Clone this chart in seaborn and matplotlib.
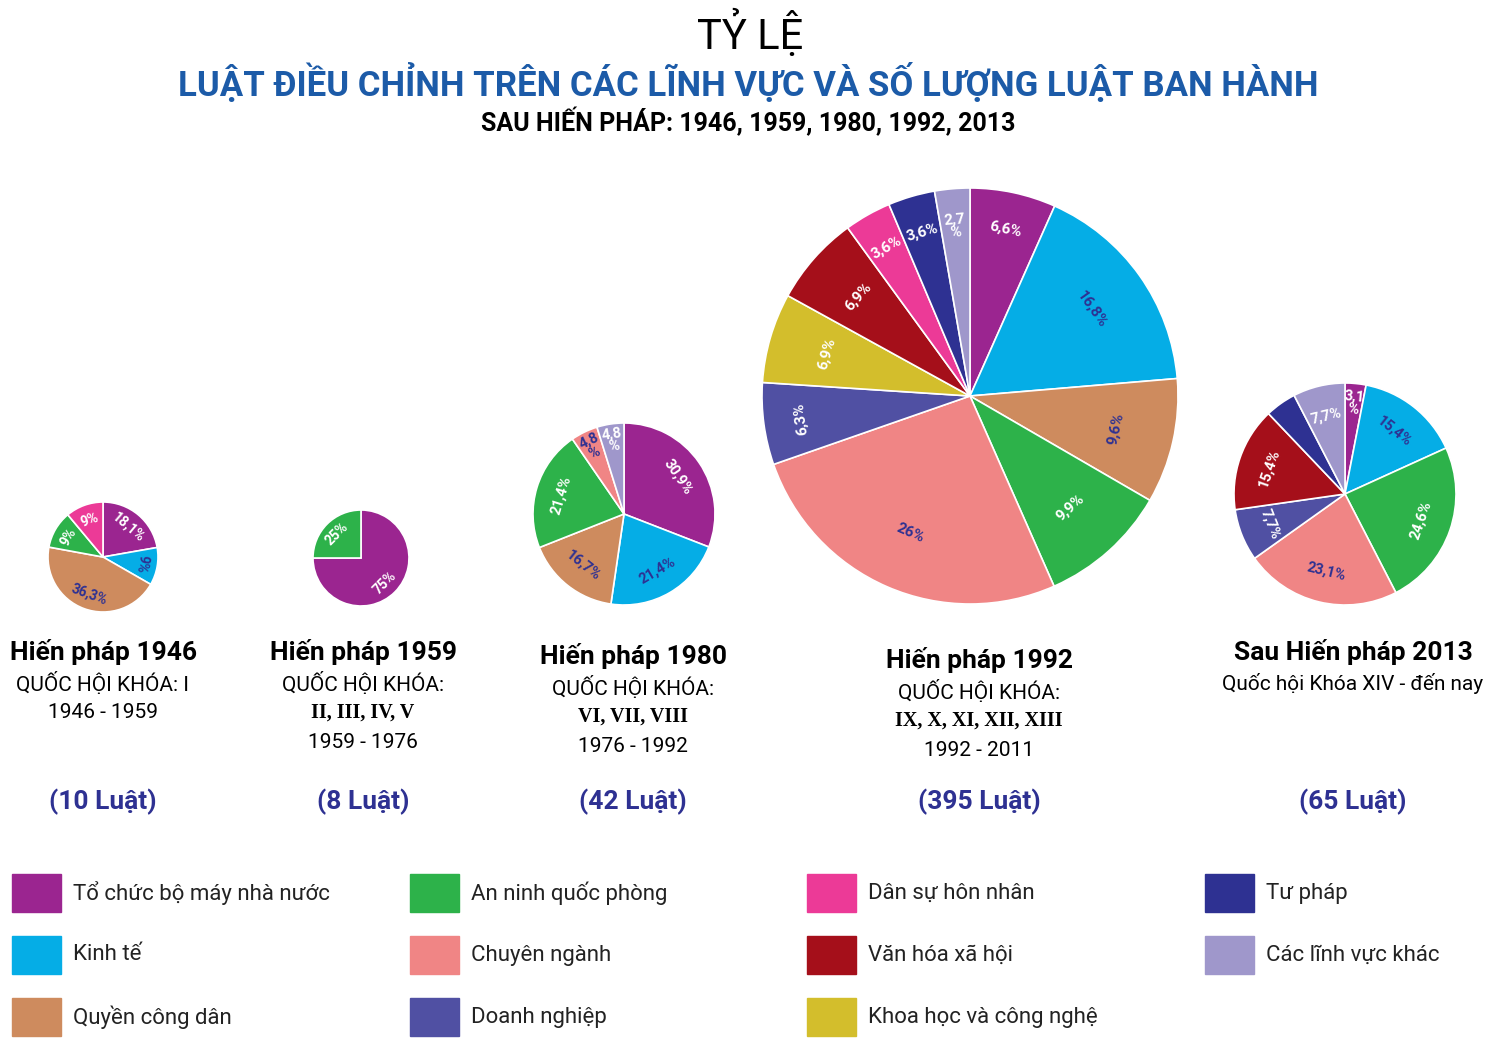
import numpy as np
import seaborn as sb
import matplotlib.pyplot as plt

sb.set_theme(style="white", font="Roboto")

categories = ["Tổ chức bộ máy nhà nước", "Kinh tế", "Quyền công dân",
              "An ninh quốc phòng", "Chuyên ngành", "Doanh nghiệp",
              "Dân sự hôn nhân", "Văn hóa xã hội", "Khoa học và công nghệ",
              "Tư pháp", "Các lĩnh vực khác"]
palette = sb.color_palette(["#9B2590", "#05ADE6", "#CE8B5E", "#2DB24A", "#F08585",
                            "#5050A3", "#EC3A97", "#A50F1A", "#D3BE2C", "#2E3192",
                            "#9F97CB"])
navy = "#2E3192"
dark_label = {"Kinh tế", "Quyền công dân", "Chuyên ngành"}

# slices listed clockwise from 12 o'clock: (category, value, label)
pie_1946 = [("Tổ chức bộ máy nhà nước", 18.1, "18,1%"), ("Kinh tế", 9, "9%"),
            ("Quyền công dân", 36.3, "36,3%"), ("An ninh quốc phòng", 9, "9%"),
            ("Dân sự hôn nhân", 9, "9%")]
pie_1959 = [("Tổ chức bộ máy nhà nước", 75, "75%"), ("An ninh quốc phòng", 25, "25%")]
pie_1980 = [("Tổ chức bộ máy nhà nước", 30.9, "30,9%"), ("Kinh tế", 21.4, "21,4%"),
            ("Quyền công dân", 16.7, "16,7%"), ("An ninh quốc phòng", 21.4, "21,4%"),
            ("Chuyên ngành", 4.8, "4,8\n%"), ("Các lĩnh vực khác", 4.8, "4,8\n%")]
pie_1992 = [("Tổ chức bộ máy nhà nước", 6.6, "6,6%"), ("Kinh tế", 16.8, "16,8%"),
            ("Quyền công dân", 9.6, "9,6%"), ("An ninh quốc phòng", 9.9, "9,9%"),
            ("Chuyên ngành", 26, "26%"), ("Doanh nghiệp", 6.3, "6,3%"),
            ("Khoa học và công nghệ", 6.9, "6,9%"), ("Văn hóa xã hội", 6.9, "6,9%"),
            ("Dân sự hôn nhân", 3.6, "3,6%"), ("Tư pháp", 3.6, "3,6%"),
            ("Các lĩnh vực khác", 2.7, "2,7\n%")]
pie_2013 = [("Tổ chức bộ máy nhà nước", 3.1, "3,1\n%"), ("Kinh tế", 15.4, "15,4%"),
            ("An ninh quốc phòng", 24.6, "24,6%"), ("Chuyên ngành", 23.1, "23,1%"),
            ("Doanh nghiệp", 7.7, "7,7%"), ("Văn hóa xã hội", 15.4, "15,4%"),
            ("Tư pháp", 4.6, ""), ("Các lĩnh vực khác", 7.7, "7,7%")]

headings = ["Hiến pháp 1946", "Hiến pháp 1959", "Hiến pháp 1980", "Hiến pháp 1992",
            "Sau Hiến pháp 2013"]
law_counts = ["(10 Luật)", "(8 Luật)", "(42 Luật)", "(395 Luật)", "(65 Luật)"]

fig = plt.figure(figsize=(15, 10.48), dpi=100)
ax = fig.add_axes([0, 0, 1, 1])
ax.set_xlim(0, 1500)
ax.set_ylim(1048, 0)
ax.set_aspect("equal")
ax.axis("off")
cmap = dict(zip(categories, palette))


def draw_pie(data, cx, cy, r, fs):
    vals = [d[1] for d in data]
    ax.pie(vals, colors=[cmap[d[0]] for d in data], startangle=90, counterclock=False,
           center=(cx, -cy), radius=r, wedgeprops=dict(edgecolor="white", linewidth=1.2),
           frame=True)
    total = sum(vals)
    start = 90.0
    for cat, v, lab in data:
        span = v / total * 360
        mid = start - span / 2
        start -= span
        rad = np.deg2rad(mid)
        rr = r * (0.78 if span > 20 else 0.85)
        rot = mid - 90
        rot = (rot + 180) % 360 - 180
        if abs(rot) > 100:
            rot += 180
        col = navy if cat in dark_label else "white"
        ax.text(cx + rr * np.cos(rad), cy - rr * np.sin(rad), lab, rotation=rot,
                ha="center", va="center", fontsize=fs, fontweight="bold", color=col,
                linespacing=0.9, rotation_mode="anchor")


# pies are drawn with y flipped, so draw them in a separate axis with normal y
ax_p = fig.add_axes([0, 0, 1, 1])
ax_p.set_xlim(0, 1500)
ax_p.set_ylim(-1048, 0)
ax_p.set_aspect("equal")
ax_p.axis("off")
_ax = ax
ax = ax_p


def draw_pie_wrap(data, cx, cy, r, fs):
    global ax
    ax = ax_p
    vals = [d[1] for d in data]
    ax_p.pie(vals, colors=[cmap[d[0]] for d in data], startangle=90, counterclock=False,
             center=(cx, -cy), radius=r, wedgeprops=dict(edgecolor="white", linewidth=1.2),
             frame=True)
    total = sum(vals)
    start = 90.0
    for cat, v, lab in data:
        span = v / total * 360
        mid = start - span / 2
        start -= span
        rad = np.deg2rad(mid)
        rr = r * (0.72 if span > 25 else 0.82)
        rot = (mid - 90 + 180) % 360 - 180
        if abs(rot) > 100:
            rot += 180
        col = navy if cat in dark_label else "white"
        ax_p.text(cx + rr * np.cos(rad), -cy + rr * np.sin(rad), lab, rotation=rot,
                  ha="center", va="center", fontsize=fs, fontweight="bold", color=col,
                  linespacing=0.9, rotation_mode="anchor")


draw_pie_wrap(pie_1946, 103, 557, 55, 10)
draw_pie_wrap(pie_1959, 361, 558, 48, 10)
draw_pie_wrap(pie_1980, 624, 514, 91, 10.5)
draw_pie_wrap(pie_1992, 970, 396, 208, 11)
draw_pie_wrap(pie_2013, 1345, 494, 111, 10.5)
ax_p.set_xlim(0, 1500)
ax_p.set_ylim(-1048, 0)
ax_p.axis("off")

ax = _ax
ax.text(750, 34, "TỶ LỆ", ha="center", va="center", fontsize=30, color="black")
ax.text(748, 83, "LUẬT ĐIỀU CHỈNH TRÊN CÁC LĨNH VỰC VÀ SỐ LƯỢNG LUẬT BAN HÀNH",
        ha="center", va="center", fontsize=25, fontweight="bold", color="#1C5BA8")
ax.text(748, 122, "SAU HIẾN PHÁP: 1946, 1959, 1980, 1992, 2013", ha="center",
        va="center", fontsize=18, fontweight="bold", color="black")

cols_x = [103, 363, 633, 979, 1353]
head_y = [652, 652, 656, 660, 652]
subs = [["QUỐC HỘI KHÓA: I", "1946 - 1959"],
        ["QUỐC HỘI KHÓA:", "II, III, IV, V", "1959 - 1976"],
        ["QUỐC HỘI KHÓA:", "VI, VII, VIII", "1976 - 1992"],
        ["QUỐC HỘI KHÓA:", "IX, X, XI, XII, XIII", "1992 - 2011"],
        ["Quốc hội Khóa XIV - đến nay"]]
for x, y, h, s, n in zip(cols_x, head_y, headings, subs, law_counts):
    ax.text(x, y, h, ha="center", va="center", fontsize=19, fontweight="bold", color="black")
    for i, line in enumerate(s):
        roman = i == 1 and "KHÓA" not in line and " - " not in line
        ax.text(x, y + 31 + 30 * i, line, ha="center", va="center",
                fontsize=14.5 if roman else 15, color="black",
                fontfamily="Liberation Serif" if roman else "Roboto",
                fontweight="bold" if roman else "normal")
    ax.text(x, 802, n, ha="center", va="center", fontsize=19, fontweight="bold", color=navy)

# legend
leg_x = [12, 410, 807, 1205]
leg_y = [893, 955, 1017]
order = [categories[0], categories[1], categories[2], categories[3], categories[4],
         categories[5], categories[6], categories[7], categories[8], categories[9],
         categories[10]]
for k, cat in enumerate(order):
    c, r = divmod(k, 3)
    x, y = leg_x[c], leg_y[r]
    ax.add_patch(plt.Rectangle((x, y - 19), 49, 38, color=cmap[cat]))
    ax.text(x + 61, y, cat, ha="left", va="center", fontsize=16, color="#222222")

fig.savefig("out.png", dpi=100)
